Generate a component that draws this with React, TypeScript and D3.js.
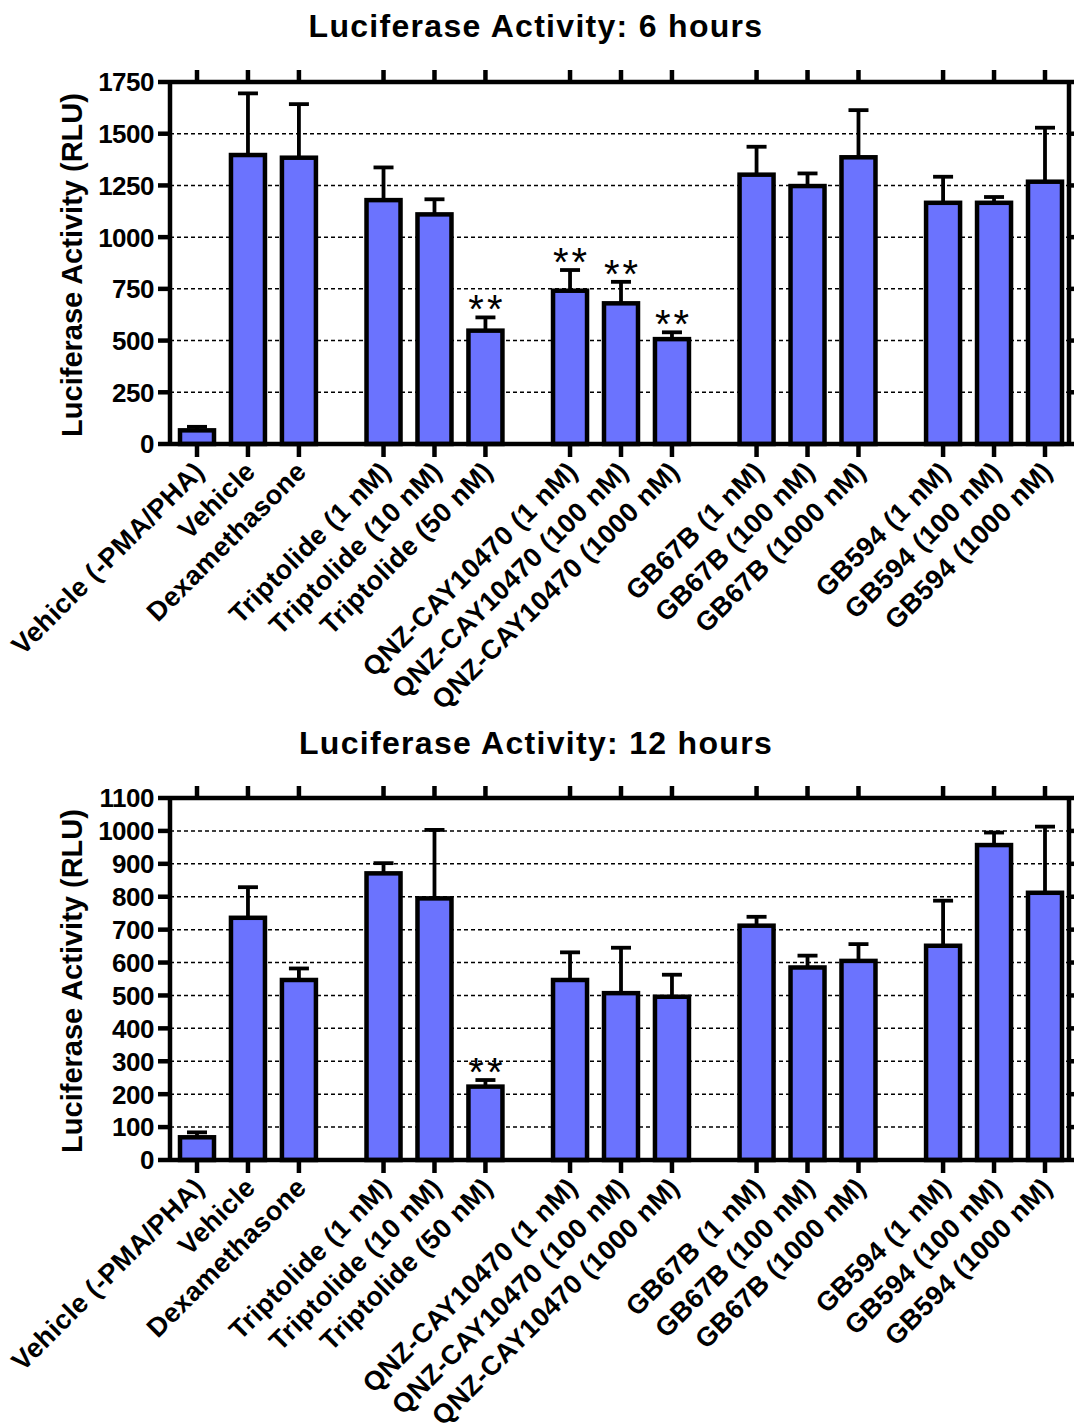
import * as d3 from "d3";
import React from "react";

const categories = [
  "Vehicle (-PMA/PHA)",
  "Vehicle",
  "Dexamethasone",
  "Triptolide (1 nM)",
  "Triptolide (10 nM)",
  "Triptolide (50 nM)",
  "QNZ-CAY10470 (1 nM)",
  "QNZ-CAY10470 (100 nM)",
  "QNZ-CAY10470 (1000 nM)",
  "GB67B (1 nM)",
  "GB67B (100 nM)",
  "GB67B (1000 nM)",
  "GB594 (1 nM)",
  "GB594 (100 nM)",
  "GB594 (1000 nM)",
];
// treatment group of each bar (used for the gaps between groups)
const groupOf = [0, 0, 0, 1, 1, 1, 2, 2, 2, 3, 3, 3, 4, 4, 4];

const mean6h = [66, 1397, 1384, 1179, 1110, 548, 741, 680, 507, 1302, 1247, 1386, 1166, 1166, 1268];
const sem6h = [17, 298, 259, 158, 73, 64, 100, 104, 33, 135, 61, 228, 126, 28, 261];
const sig6h = ["", "", "", "", "", "**", "**", "**", "**", "", "", "", "", "", ""];
const ticks6h = [0, 250, 500, 750, 1000, 1250, 1500, 1750];

const mean12h = [69, 736, 547, 871, 795, 223, 547, 507, 496, 712, 585, 605, 651, 957, 812];
const sem12h = [15, 93, 35, 31, 208, 20, 84, 138, 67, 27, 36, 51, 137, 38, 201];
const sig12h = ["", "", "", "", "", "**", "", "", "", "", "", "", "", "", ""];
const ticks12h = [0, 100, 200, 300, 400, 500, 600, 700, 800, 900, 1000, 1100];

const FONT = "'Liberation Sans', Arial, Helvetica, sans-serif";
const BAR = "#6b73fe";

const LEFT = 170;
const RIGHT = 1069;
const GROUP_STEP = 3.66;

interface PanelProps {
  title: string;
  titleY: number;
  top: number;
  bottom: number;
  ticks: number[];
  means: number[];
  sems: number[];
  sigs: string[];
}

const Panel = ({ title, titleY, top, bottom, ticks, means, sems, sigs }: PanelProps) => {
  const pos = categories.map((_, i) => groupOf[i] * GROUP_STEP + (i - groupOf[i] * 3));
  const x = d3.scaleLinear().domain([0, d3.max(pos)!]).range([197, 1045]);
  const y = d3
    .scaleLinear()
    .domain([0, d3.max(ticks)!])
    .range([bottom, top]);
  const bw = 34;

  return (
    <g fontFamily={FONT}>
      <text
        x={536}
        y={titleY}
        textAnchor="middle"
        fontSize={32}
        fontWeight="bold"
        letterSpacing={1.3}
      >
        {title}
      </text>

      {/* grid */}
      {ticks
        .filter((t) => t > 0)
        .map((t) => (
          <line
            key={"g" + t}
            x1={LEFT}
            x2={RIGHT}
            y1={y(t)}
            y2={y(t)}
            stroke="#000"
            strokeWidth={1.5}
            strokeDasharray="4,3"
          />
        ))}

      {/* bars */}
      {means.map((m, i) => (
        <rect
          key={"b" + i}
          x={x(pos[i]) - bw / 2}
          y={y(m)}
          width={bw}
          height={y(0) - y(m)}
          fill={BAR}
          stroke="#000"
          strokeWidth={4.5}
        />
      ))}

      {/* error bars */}
      {means.map((m, i) => {
        const cx = x(pos[i]);
        const ty = y(m + sems[i]);
        return (
          <g key={"e" + i} stroke="#000" strokeWidth={3.8}>
            <line x1={cx} x2={cx} y1={y(m)} y2={ty} />
            <line x1={cx - 10} x2={cx + 10} y1={ty} y2={ty} />
          </g>
        );
      })}

      {/* significance */}
      {sigs.map((s, i) =>
        s ? (
          <text
            key={"s" + i}
            x={x(pos[i]) + 1.5}
            y={y(means[i] + sems[i]) + 6}
            textAnchor="middle"
            fontSize={40}
            letterSpacing={3}
          >
            {s}
          </text>
        ) : null
      )}

      {/* frame */}
      <g stroke="#000" strokeWidth={4.5} fill="none">
        <line x1={LEFT} x2={RIGHT} y1={bottom} y2={bottom} />
        <line x1={LEFT} x2={RIGHT} y1={top} y2={top} />
        <line x1={LEFT} x2={LEFT} y1={top - 2} y2={bottom + 2} />
        <line x1={RIGHT} x2={RIGHT} y1={top - 2} y2={bottom + 2} />
        {pos.map((p, i) => (
          <g key={"t" + i}>
            <line x1={x(p)} x2={x(p)} y1={bottom} y2={bottom + 13} />
            <line x1={x(p)} x2={x(p)} y1={top} y2={top - 12} />
          </g>
        ))}
        {ticks.map((t) => (
          <g key={"yt" + t}>
            <line x1={LEFT - 12} x2={LEFT} y1={y(t)} y2={y(t)} />
            <line x1={RIGHT} x2={RIGHT + 10} y1={y(t)} y2={y(t)} />
          </g>
        ))}
      </g>

      {/* y tick labels */}
      {ticks.map((t) => (
        <text
          key={"yl" + t}
          x={154}
          y={y(t)}
          dy="0.36em"
          textAnchor="end"
          fontSize={26}
          fontWeight="bold"
          letterSpacing={-0.5}
        >
          {t}
        </text>
      ))}

      {/* y axis title */}
      <text
        transform={`translate(82,${(top + bottom) / 2 + 2}) rotate(-90)`}
        textAnchor="middle"
        fontSize={29}
        fontWeight="bold"
      >
        Luciferase Activity (RLU)
      </text>

      {/* x labels */}
      {categories.map((c, i) => (
        <text
          key={"xl" + i}
          transform={`translate(${x(pos[i]) + 9},${bottom + 29}) rotate(-45)`}
          textAnchor="end"
          fontSize={27}
          fontWeight="bold"
          letterSpacing={0.4}
        >
          {c}
        </text>
      ))}
    </g>
  );
};

export default function App() {
  return (
    <svg
      width={1074}
      height={1428}
      style={{ position: "absolute", left: 0, top: 0, background: "#fff" }}
    >
      <Panel
        title="Luciferase Activity: 6 hours"
        titleY={37}
        top={82}
        bottom={444}
        ticks={ticks6h}
        means={mean6h}
        sems={sem6h}
        sigs={sig6h}
      />
      <Panel
        title="Luciferase Activity: 12 hours"
        titleY={754}
        top={798}
        bottom={1160}
        ticks={ticks12h}
        means={mean12h}
        sems={sem12h}
        sigs={sig12h}
      />
    </svg>
  );
}
